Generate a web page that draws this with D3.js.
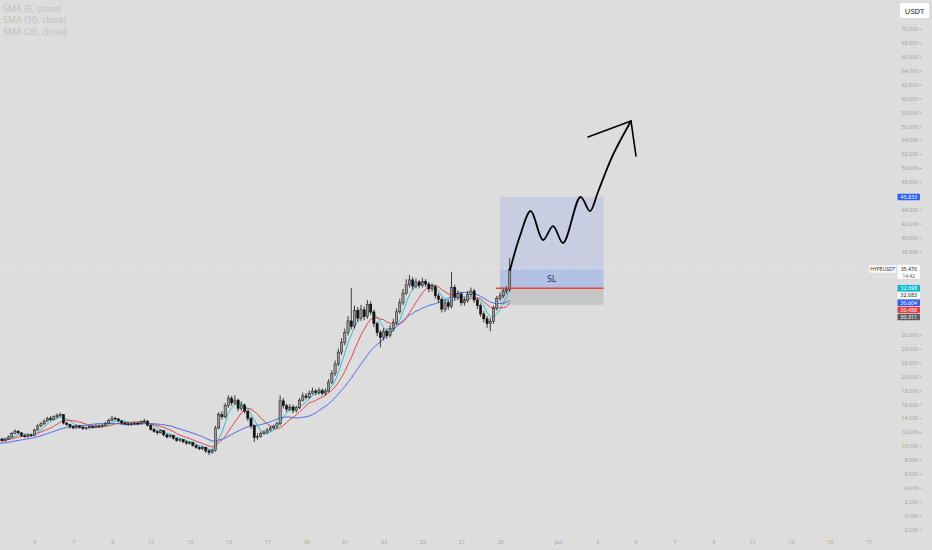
<!DOCTYPE html>
<html><head><meta charset="utf-8">
<script src="https://cdn.jsdelivr.net/npm/d3@7"></script>
<style>
html,body{margin:0;padding:0;background:#dddddd;overflow:hidden;}
svg{display:block;font-family:"Noto Sans",sans-serif;}
</style></head><body>
<svg id="c" width="932" height="550"></svg>
<script>
// ---------- data ----------
const symbol = "HYPEUSDT";
const quoteCurrency = "USDT";
const candleStart = "2025-05-03T04:00:00Z";
const candleHours = 4;

const opens = [10.9,11.0,10.8,11.0,11.3,11.8,12.1,11.9,11.5,11.4,
 11.6,11.5,12.3,12.9,13.2,13.6,14.0,13.8,14.2,14.4,
 14.5,13.3,13.1,12.8,12.6,12.9,12.7,12.5,12.6,12.8,
 12.7,12.9,12.8,13.0,13.3,13.7,14.0,13.9,13.6,13.3,
 13.2,13.1,13.2,13.3,13.2,13.5,13.6,13.0,12.4,12.1,
 11.9,12.2,11.6,11.3,11.5,11.1,10.8,10.9,10.6,10.4,
 10.5,10.1,9.8,9.6,9.8,9.3,9.1,9.4,12.6,14.5,
 14.2,15.8,16.9,16.2,16.6,15.4,15.9,15.0,14.0,12.9,
 11.2,11.4,11.8,12.0,12.3,12.6,12.8,13.2,16.5,15.8,
 15.3,15.6,15.1,15.5,16.6,17.2,17.0,17.6,17.9,17.7,
 18.0,17.6,17.9,19.2,20.4,21.8,23.5,24.9,26.3,28.0,
 27.2,29.5,28.4,29.6,28.6,30.4,29.3,27.6,26.3,25.6,
 26.5,25.9,26.9,27.8,29.3,30.6,32.0,33.2,33.9,33.0,
 33.6,33.1,33.7,33.3,32.6,32.9,31.6,31.1,29.7,30.6,
 30.1,32.8,31.4,31.9,30.6,30.9,31.8,32.3,31.0,30.2,
 29.0,28.3,27.6,27.9,29.8,31.2,31.6,32.3,32.5];

const highs = [11.2,11.2,11.2,11.5,12.0,12.4,12.3,12.0,11.7,11.8,
 11.8,12.5,13.1,13.4,13.8,14.2,14.3,14.4,14.7,14.8,
 14.6,13.5,13.2,13.0,13.1,13.0,12.9,12.8,13.0,13.0,
 13.1,13.1,13.2,13.5,13.9,14.3,14.2,14.0,13.7,13.5,
 13.4,13.4,13.5,13.5,13.7,13.9,13.7,13.1,12.6,12.3,
 12.4,12.3,11.8,11.7,11.6,11.2,11.1,11.0,10.8,10.7,
 10.6,10.2,10.0,10.0,9.9,9.5,9.6,12.9,14.9,15.0,
 16.2,17.3,17.2,17.3,16.8,16.4,16.1,15.2,14.2,13.1,
 11.8,12.1,12.3,12.6,12.9,13.1,13.5,17.3,16.9,16.1,
 16.0,15.9,15.8,16.9,17.7,17.6,18.0,18.4,18.2,18.4,
 18.3,18.3,19.6,20.9,22.3,24.0,25.5,26.9,28.7,32.7,
 30.2,30.0,30.3,30.1,31.0,30.8,29.6,27.9,26.7,27.0,
 26.9,27.4,28.3,29.8,31.2,32.6,34.0,34.6,34.3,34.1,
 33.9,34.2,34.0,33.6,33.4,33.2,32.0,31.4,31.0,31.1,
 35.0,33.2,32.4,32.1,31.4,32.3,32.8,32.6,31.3,30.5,
 29.4,28.7,28.4,30.2,31.6,32.1,32.8,33.0,37.05];

const lows = [10.7,10.6,10.6,10.9,11.2,11.7,11.7,11.3,11.2,11.2,
 11.3,11.4,12.2,12.7,13.0,13.5,13.6,13.7,14.0,14.2,
 13.1,12.9,12.5,12.4,12.5,12.5,12.3,12.3,12.5,12.5,
 12.6,12.6,12.7,12.9,13.2,13.6,13.7,13.4,13.1,13.0,
 12.9,12.9,13.0,13.0,13.1,13.3,12.8,12.2,11.9,11.6,
 11.8,11.4,11.1,11.2,10.9,10.6,10.6,10.4,10.2,10.2,
 9.9,9.6,9.4,9.4,9.0,8.7,8.9,9.2,12.4,13.8,
 14.0,15.5,15.8,15.9,15.0,15.1,14.7,13.6,12.5,10.6,
 10.9,11.2,11.6,11.8,12.1,12.4,12.6,13.0,15.4,14.9,
 15.0,14.7,14.8,15.3,16.4,16.7,16.8,17.4,17.3,17.4,
 17.3,17.3,17.7,18.9,20.1,21.5,23.1,24.5,25.9,26.8,
 26.9,27.9,28.0,28.1,28.3,28.9,27.1,25.8,24.2,25.2,
 25.4,25.6,26.5,27.5,29.0,30.3,31.7,32.8,32.5,32.7,
 32.7,32.8,32.9,32.1,32.2,31.2,30.6,29.2,29.3,29.6,
 29.8,31.0,31.0,30.2,30.2,30.6,31.5,30.6,29.7,28.6,
 27.8,27.0,26.5,27.6,29.5,30.9,31.3,31.9,32.2];

const closes = [11.0,10.8,11.0,11.3,11.8,12.1,11.9,11.5,11.4,11.6,
 11.5,12.3,12.9,13.2,13.6,14.0,13.8,14.2,14.4,14.5,
 13.3,13.1,12.8,12.6,12.9,12.7,12.5,12.6,12.8,12.7,
 12.9,12.8,13.0,13.3,13.7,14.0,13.9,13.6,13.3,13.2,
 13.1,13.2,13.3,13.2,13.5,13.6,13.0,12.4,12.1,11.9,
 12.2,11.6,11.3,11.5,11.1,10.8,10.9,10.6,10.4,10.5,
 10.1,9.8,9.6,9.8,9.3,9.1,9.4,12.6,14.5,14.2,
 15.8,16.9,16.2,16.6,15.4,15.9,15.0,14.0,12.9,11.2,
 11.4,11.8,12.0,12.3,12.6,12.8,13.2,16.5,15.8,15.3,
 15.6,15.1,15.5,16.6,17.2,17.0,17.6,17.9,17.7,18.0,
 17.6,17.9,19.2,20.4,21.8,23.5,24.9,26.3,28.0,27.2,
 29.5,28.4,29.6,28.6,30.4,29.3,27.6,26.3,25.6,26.5,
 25.9,26.9,27.8,29.3,30.6,32.0,33.2,33.9,33.0,33.6,
 33.1,33.7,33.3,32.6,32.9,31.6,31.1,29.7,30.6,30.1,
 32.8,31.4,31.9,30.6,30.9,31.8,32.3,31.0,30.2,29.0,
 28.3,27.6,27.9,29.8,31.2,31.6,32.3,32.5,35.476];

// closes before the first visible bar (off-screen, only feed the moving averages)
const warmupCloses = [10.2,10.0,9.9,10.1,10.3,10.2,10.0,9.8,9.9,10.1,10.3,10.5,10.4,10.6,10.8,10.7,10.9,11.1,11.0];

const smaPeriods = [5, 10, 20];
const smaNames = ["SMA (5, close)", "SMA (10, close)", "SMA (20, close)"];

// long-position drawing
const positionStart = "2025-05-29T00:00:00Z";
const positionEnd = "2025-06-03T08:00:00Z";
const targetPrice = 45.833;
const entryPrice = 32.698;
const stopPrice = 30.311;
const lastPrice = 35.476;
const lastTimeLabel = "14:42";
const stopLabel = "SL";

// hand-drawn projection (hours after positionStart, price)
const forecastHours = [12.4, 24.7, 38.0, 53.2, 65.6, 78.0, 99.6, 111.3, 121.2, 138.5, 162.1];
const forecastPrices = [35.32, 40.22, 43.81, 39.64, 41.65, 39.21, 45.83, 43.81, 46.55, 51.58, 56.76];
const arrowHeadHours = [108.9, 162.1, 168.2];
const arrowHeadPrices = [54.46, 56.76, 51.73];

// price-scale tags
const scaleTagValues = [32.698, 32.683, 30.604, 30.458, 30.311];
const scaleTagKinds = ["sma5", "plain", "sma20", "sma10", "stop"];

// axis ticks
const yTickValues = [70,68,66,64,62,60,58,56,54,52,50,48,46,44,42,40,38,36,34,32,30,28,26,24,22,20,18,16,14,12,10,8,6,4,2,0,-2];
const xTickDates = ["2025-05-05","2025-05-07","2025-05-09","2025-05-11","2025-05-13","2025-05-15","2025-05-17","2025-05-19","2025-05-21","2025-05-23","2025-05-25","2025-05-27","2025-05-29","2025-06-01","2025-06-03","2025-06-05","2025-06-07","2025-06-09","2025-06-11","2025-06-13","2025-06-15","2025-06-17"];
const xTickLabels = ["5","7","9","11","13","15","17","19","21","23","25","27","29","Jun","3","5","7","9","11","13","15","17"];

// ---------- styles ----------
const C = {
  bg:"#dddddd", up:"#9a9a9a", down:"#111111", wick:"#111111",
  sma5:"#2fbfcf", sma10:"#e2464c", sma20:"#4d6ee8",
  axisText:"#a3a3a3", legendText:"#c0c0c0",
  target:"rgba(41,98,255,0.12)", stopFill:"rgba(0,0,0,0.10)",
  entryLine:"#e04848", tagBlue:"#2962ff", tagCyan:"#00bcd4", tagRed:"#f23645", tagGray:"#5d5f66"
};

// ---------- scales ----------
const W = 932, H = 550, plotRight = 896;
const svg = d3.select("#c");
svg.append("rect").attr("width",W).attr("height",H).attr("fill",C.bg);

const parse = d3.utcParse("%Y-%m-%dT%H:%M:%SZ");
const parseDay = d3.utcParse("%Y-%m-%d");
const t0 = parse(candleStart);
const times = closes.map((_, i) => d3.utcHour.offset(t0, i * candleHours));

const x = d3.scaleUtc()
  .domain([parseDay("2025-05-03"), parseDay("2025-06-18")])
  .range([-4.4, 888]);
const y = d3.scaleLinear().domain([-2, 70]).range([529.4, 29]);

const posT0 = parse(positionStart), posT1 = parse(positionEnd);
const hoursAfter = h => new Date(posT0.getTime() + h * 3600e3);

// ---------- plot area ----------
svg.append("defs").append("clipPath").attr("id","plot")
  .append("rect").attr("x",0).attr("y",0).attr("width",plotRight).attr("height",H);
const plot = svg.append("g").attr("clip-path","url(#plot)");

// position box
const bx0 = x(posT0), bx1 = x(posT1);
plot.append("rect").attr("x",bx0).attr("y",y(targetPrice)).attr("width",bx1-bx0)
  .attr("height",y(entryPrice)-y(targetPrice)).attr("fill",C.target);
plot.append("rect").attr("x",bx0).attr("y",y(lastPrice)).attr("width",bx1-bx0)
  .attr("height",y(entryPrice)-y(lastPrice)).attr("fill",C.target);
plot.append("rect").attr("x",bx0).attr("y",y(entryPrice)).attr("width",bx1-bx0)
  .attr("height",y(stopPrice)-y(entryPrice)).attr("fill",C.stopFill);

// current price dotted line
plot.append("line").attr("x1",0).attr("x2",plotRight).attr("y1",y(lastPrice)).attr("y2",y(lastPrice))
  .attr("stroke","#f2f2f2").attr("stroke-width",1).attr("stroke-dasharray","1,2");

// moving averages
const full = warmupCloses.concat(closes);
const off = warmupCloses.length;
const smaColors = [C.sma5, C.sma10, C.sma20];
smaPeriods.forEach((p, k) => {
  const vals = closes.map((_, i) => d3.mean(full.slice(Math.max(0, i + off - p + 1), i + off + 1)));
  plot.append("path").datum(vals)
    .attr("fill","none").attr("stroke",smaColors[k]).attr("stroke-width",1)
    .attr("d", d3.line().x((d,i)=>x(times[i])).y(d=>y(d)));
});

// candles
const bw = 2.2;
const cg = plot.append("g");
closes.forEach((c, i) => {
  const o = opens[i], cx = x(times[i]);
  const up = c >= o;
  cg.append("line").attr("x1",cx).attr("x2",cx).attr("y1",y(highs[i])).attr("y2",y(lows[i]))
    .attr("stroke",C.wick).attr("stroke-width",0.8);
  const top = y(Math.max(o,c)), bot = y(Math.min(o,c));
  cg.append("rect").attr("x",cx-bw/2).attr("y",top).attr("width",bw).attr("height",Math.max(0.8, bot-top))
    .attr("fill", up ? C.up : C.down).attr("stroke", C.wick).attr("stroke-width",0.5);
});

// entry line
plot.append("line").attr("x1",bx0-4).attr("x2",bx1).attr("y1",y(entryPrice)).attr("y2",y(entryPrice))
  .attr("stroke",C.entryLine).attr("stroke-width",1.3);
plot.append("text").attr("x",(bx0+bx1)/2).attr("y",(y(lastPrice)+y(entryPrice))/2+3.5)
  .attr("text-anchor","middle").attr("font-size",9).attr("fill","#1d2f6f").text(stopLabel);

// projection drawing
plot.append("path").datum(forecastHours.map((h,i)=>[x(hoursAfter(h)), y(forecastPrices[i])]))
  .attr("fill","none").attr("stroke","#000").attr("stroke-width",1.8).attr("stroke-linecap","round")
  .attr("d", d3.line().curve(d3.curveCatmullRom.alpha(0.5)));
plot.append("path").datum(arrowHeadHours.map((h,i)=>[x(hoursAfter(h)), y(arrowHeadPrices[i])]))
  .attr("fill","none").attr("stroke","#000").attr("stroke-width",1.6).attr("stroke-linecap","round").attr("stroke-linejoin","round")
  .attr("d", d3.line());

// legend
svg.append("g").selectAll("text").data(smaNames).join("text")
  .attr("x",3).attr("y",(d,i)=>11.5 + i*11.8).attr("font-size",9).attr("fill",C.legendText).text(d=>d);

// ---------- price scale tags ----------
const tagX = 897.5, tagW = 22.5, tagH = 6.4, fs = 5.4;
const kindStyle = {
  sma5:[C.tagCyan,"#ffffff"], plain:["#ffffff","#222222"], sma20:[C.tagBlue,"#ffffff"],
  sma10:[C.tagRed,"#ffffff"], stop:[C.tagGray,"#ffffff"], target:[C.tagBlue,"#ffffff"]
};
const fmt = d3.format(".3f");
const tags = [{v:targetPrice, kind:"target"}].concat(scaleTagValues.map((v,i)=>({v, kind:scaleTagKinds[i]})));
let prevY = -1e9;
const stack = tags.slice(1).sort((a,b)=>b.v-a.v);
stack.forEach(t => { t.y = Math.max(y(t.v), prevY + 7.1); prevY = t.y; });
tags[0].y = y(targetPrice);
const curY = y(lastPrice);
const blocked = tags.map(t=>[t.y-tagH/2-2, t.y+tagH/2+2]).concat([[curY-6, curY+11]]);

// y axis
const yAxis = d3.axisLeft(y).tickValues(yTickValues.filter(v => !blocked.some(b => y(v) > b[0] && y(v) < b[1])))
  .tickFormat(fmt).tickSize(2.5).tickPadding(1.2);
const ya = svg.append("g").attr("transform",`translate(${922},0)`).call(yAxis);
ya.select(".domain").remove();
ya.selectAll("line").attr("stroke","#b5b5b5");
ya.selectAll("text").attr("font-size",fs).attr("fill",C.axisText).attr("font-family","Noto Sans");

const tg = svg.append("g");
tags.forEach(t => {
  const [bg, fg] = kindStyle[t.kind];
  tg.append("rect").attr("x",tagX).attr("y",t.y-tagH/2).attr("width",tagW).attr("height",tagH).attr("rx",0.8).attr("fill",bg);
  tg.append("text").attr("x",tagX+tagW/2).attr("y",t.y+1.9).attr("text-anchor","middle")
    .attr("font-size",fs).attr("fill",fg).text(fmt(t.v));
});
// current price tag (two lines) + symbol tag
tg.append("rect").attr("x",tagX).attr("y",curY-4.2).attr("width",tagW).attr("height",14).attr("rx",0.8).attr("fill","#ffffff");
tg.append("text").attr("x",tagX+tagW/2).attr("y",curY+1.6).attr("text-anchor","middle").attr("font-size",5.2).attr("fill","#222").text(fmt(lastPrice));
tg.append("text").attr("x",tagX+tagW/2).attr("y",curY+8.8).attr("text-anchor","middle").attr("font-size",4.8).attr("fill","#555").text(lastTimeLabel);
tg.append("rect").attr("x",869.5).attr("y",curY-3.5).attr("width",26.5).attr("height",7.2).attr("fill","#ffffff");
tg.append("text").attr("x",882.7).attr("y",curY+1.9).attr("text-anchor","middle").attr("font-size",5).attr("fill","#222").text(symbol);

// currency button
svg.append("rect").attr("x",899.5).attr("y",2.5).attr("width",30).attr("height",16).attr("rx",2)
  .attr("fill","#ffffff").attr("stroke","#d0d0d0").attr("stroke-width",0.6);
svg.append("text").attr("x",914.5).attr("y",13.5).attr("text-anchor","middle").attr("font-size",7.6)
  .attr("fill","#131722").text(quoteCurrency);

// x axis
const xAxis = d3.axisBottom(x).tickValues(xTickDates.map(d=>parseDay(d)))
  .tickFormat((d,i)=>xTickLabels[i]).tickSize(0).tickPadding(3);
const xa = svg.append("g").attr("transform","translate(0,537)").call(xAxis);
xa.select(".domain").remove();
xa.selectAll("text").attr("font-size",fs).attr("fill",C.axisText).attr("font-family","Noto Sans");
</script>
</body></html>
